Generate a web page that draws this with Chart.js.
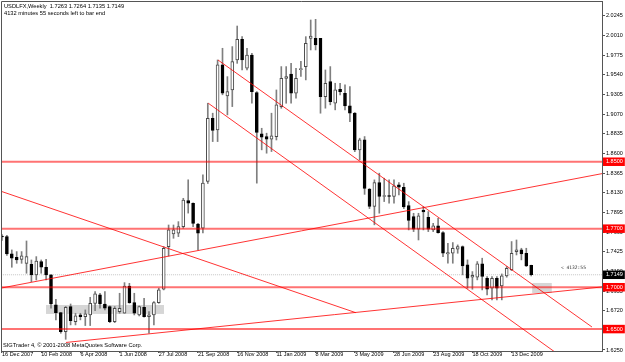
<!DOCTYPE html>
<html>
<head>
<meta charset="utf-8">
<script src="https://cdn.jsdelivr.net/npm/chart.js@4.4.1/dist/chart.umd.min.js"></script>
<style>
  html, body { margin: 0; padding: 0; background: #fff; }
  #wrap { position: relative; width: 625px; height: 362px; overflow: hidden; background: #fff; }
  #wrap canvas { position: absolute; left: 0; top: 0; }
  .lbl { position: absolute; font-family: 'Liberation Sans', Arial, sans-serif; font-size: 5.7px; line-height: 5.7px; color: #000; white-space: nowrap; }
  .timer { font-family: 'DejaVu Sans Mono', monospace; font-size: 4.6px; line-height: 4.6px; color: #333; }
</style>
</head>
<body>
<div id="wrap">
  <canvas id="chart" width="625" height="362"></canvas>
  <div class="lbl" id="head" style="left:4px;top:3.5px"></div>
  <div class="lbl" style="left:4px;top:10.5px">4132 minutes 55 seconds left to bar end</div>
  <div class="lbl" style="left:3px;top:342.5px">SIGTrader 4, © 2001-2008 MetaQuotes Software Corp.</div>
  <div class="lbl timer" style="left:561px;top:265.5px">&lt; 4132:55</div>
</div>
<script>
// weekly USDLFX candles, bar 0 = week of 16 Dec 2007
const opens = [
  1.7610, 1.7605, 1.7398, 1.7358, 1.7334, 1.7286, 1.7274, 1.7147, 1.7306, 1.7239,
  1.7147, 1.6789, 1.6697, 1.6470, 1.6769, 1.6589, 1.6669, 1.6649, 1.6669, 1.6808,
  1.6908, 1.6800, 1.6769, 1.6589, 1.6709, 1.6689, 1.7015, 1.6816, 1.6669, 1.6761,
  1.6649, 1.6669, 1.6816, 1.6976, 1.7485, 1.7637, 1.7645, 1.7724, 1.8037, 1.8003,
  1.7756, 1.7705, 1.8264, 1.9020, 1.8881, 1.9657, 1.9286, 1.9358, 1.9716, 1.9963,
  1.9617, 1.9776, 1.9326, 1.8833, 1.8801, 1.8769, 1.8801, 1.9159, 1.9497, 1.9549,
  1.9318, 1.9600, 1.9637, 1.9975, 1.9975, 1.9975, 1.9279, 1.9458, 1.9199, 1.9366,
  1.9318, 1.9167, 1.9080, 1.8642, 1.8761, 1.8172, 1.7965, 1.8251, 1.8084, 1.8088,
  1.8084, 1.8223, 1.8195, 1.7975, 1.7844, 1.7693, 1.7920, 1.7836, 1.7685, 1.7733,
  1.7653, 1.7398, 1.7406, 1.7454, 1.7486, 1.7267, 1.7120, 1.7120, 1.7279, 1.7108,
  1.6988, 1.7108, 1.7016, 1.7136, 1.7207, 1.7426, 1.7446, 1.7406, 1.7263
];
const highs = [
  1.7630, 1.7620, 1.7446, 1.7426, 1.7426, 1.7553, 1.7326, 1.7366, 1.7326, 1.7334,
  1.7150, 1.6856, 1.6700, 1.6770, 1.6800, 1.6689, 1.6689, 1.6729, 1.6880, 1.6948,
  1.6928, 1.6948, 1.6777, 1.6769, 1.6928, 1.7055, 1.7047, 1.6928, 1.6777, 1.6868,
  1.6709, 1.6828, 1.6988, 1.7485, 1.7744, 1.7744, 1.7784, 1.8063, 1.8284, 1.8010,
  1.7764, 1.8343, 1.9199, 1.9080, 1.9716, 1.9856, 1.9517, 1.9876, 2.0122, 1.9995,
  1.9856, 1.9796, 1.9338, 1.8900, 1.8841, 1.9080, 1.9358, 1.9637, 1.9637, 1.9676,
  1.9617, 1.9700, 1.9995, 2.0194, 2.0202, 1.9975, 1.9597, 1.9637, 1.9438, 1.9438,
  1.9418, 1.9398, 1.9088, 1.8781, 1.8801, 1.8180, 1.8283, 1.8363, 1.8303, 1.8283,
  1.8283, 1.8251, 1.8243, 1.8023, 1.7884, 1.7884, 1.7963, 1.7904, 1.7764, 1.7824,
  1.7665, 1.7526, 1.7534, 1.7506, 1.7494, 1.7327, 1.7187, 1.7307, 1.7347, 1.7128,
  1.7128, 1.7128, 1.7159, 1.7247, 1.7546, 1.7565, 1.7466, 1.7466, 1.7264
];
const lows = [
  1.7560, 1.7380, 1.7239, 1.7286, 1.7286, 1.7167, 1.7067, 1.7087, 1.7167, 1.7087,
  1.6749, 1.6610, 1.6450, 1.6378, 1.6550, 1.6550, 1.6610, 1.6542, 1.6542, 1.6721,
  1.6749, 1.6729, 1.6577, 1.6577, 1.6689, 1.6689, 1.6808, 1.6669, 1.6657, 1.6641,
  1.6450, 1.6550, 1.6808, 1.6968, 1.7374, 1.7585, 1.7605, 1.7705, 1.7886, 1.7724,
  1.7446, 1.7650, 1.8240, 1.8741, 1.8741, 1.9300, 1.9060, 1.9159, 1.9676, 1.9597,
  1.9597, 1.9199, 1.8244, 1.8642, 1.8602, 1.8622, 1.8760, 1.9139, 1.9199, 1.9199,
  1.9260, 1.9520, 1.9478, 1.9836, 1.9836, 1.9080, 1.9140, 1.9180, 1.9120, 1.9300,
  1.9120, 1.8980, 1.8620, 1.8522, 1.8110, 1.7940, 1.7746, 1.7885, 1.8024, 1.8004,
  1.8004, 1.8104, 1.7940, 1.7685, 1.7665, 1.7565, 1.7685, 1.7665, 1.7665, 1.7645,
  1.7366, 1.7287, 1.7287, 1.7406, 1.7148, 1.6988, 1.6976, 1.7088, 1.6968, 1.6909,
  1.6849, 1.6849, 1.6849, 1.7120, 1.7199, 1.7386, 1.7327, 1.7247, 1.7135
];
const closes = [
  1.7600, 1.7398, 1.7346, 1.7326, 1.7374, 1.7366, 1.7147, 1.7314, 1.7239, 1.7147,
  1.6800, 1.6697, 1.6470, 1.6761, 1.6601, 1.6657, 1.6649, 1.6681, 1.6808, 1.6920,
  1.6800, 1.6749, 1.6589, 1.6749, 1.6749, 1.7015, 1.6816, 1.6689, 1.6769, 1.6649,
  1.6669, 1.6816, 1.6968, 1.7466, 1.7685, 1.7685, 1.7724, 1.8043, 1.8005, 1.7764,
  1.7645, 1.8246, 1.9020, 1.8873, 1.9657, 1.9318, 1.9338, 1.9696, 1.9963, 1.9716,
  1.9776, 1.9338, 1.8849, 1.8793, 1.8769, 1.8809, 1.9179, 1.9497, 1.9517, 1.9318,
  1.9497, 1.9605, 1.9915, 2.0003, 1.9895, 1.9278, 1.9438, 1.9219, 1.9358, 1.9338,
  1.9167, 1.9080, 1.8642, 1.8761, 1.8180, 1.7965, 1.8251, 1.8084, 1.8092, 1.8084,
  1.8211, 1.8195, 1.7960, 1.7800, 1.7693, 1.7852, 1.7900, 1.7693, 1.7733, 1.7653,
  1.7406, 1.7414, 1.7466, 1.7486, 1.7255, 1.7108, 1.7143, 1.7279, 1.7128, 1.6976,
  1.7108, 1.6988, 1.7136, 1.7227, 1.7406, 1.7446, 1.7398, 1.7255, 1.7149
];

// one date label every 8 weeks
const dateLabels = ['16 Dec 2007', '10 Feb 2008', '6 Apr 2008', '1 Jun 2008', '27 Jul 2008',
  '21 Sep 2008', '16 Nov 2008', '11 Jan 2009', '8 Mar 2009', '3 May 2009', '28 Jun 2009',
  '23 Aug 2009', '18 Oct 2009', '13 Dec 2009'];
const priceTicks = [2.0245, 2.0010, 1.9775, 1.9540, 1.9305, 1.9070, 1.8835, 1.8600, 1.8365,
  1.8130, 1.7895, 1.7660, 1.7425, 1.7190, 1.6955, 1.6720, 1.6485, 1.6250];

// horizontal levels (red)
const levelPrices = [1.8500, 1.7700, 1.7000, 1.6500];

// trend lines: bar index / price at both ends
const trendStartBar = [-1, -1, 13.06, 44.08, 42.1];
const trendStartPrice = [1.8163, 1.6981, 1.6340, 1.9716, 1.9199];
const trendEndBar = [72.2, 124, 124, 120.4, 115];
const trendEndPrice = [1.6696, 1.8375, 1.7013, 1.6525, 1.6135];

// grey rectangles
const zoneStartBar = [8.98, 108.2];
const zoneEndBar = [33.06, 112.2];
const zoneHigh = [1.6788, 1.7051];
const zoneLow = [1.6681, 1.6932];

const last = closes.length - 1;
const lastClose = closes[last];
const fmt = v => v.toFixed(4);
document.getElementById('head').innerHTML =
  'USDLFX,Weekly&nbsp; ' + [opens[last], highs[last], lows[last], closes[last]].map(fmt).join(' ');

const axisFont = { family: "'Liberation Sans', Arial, sans-serif", size: 5.5, lineHeight: 1 };
const nPlain = priceTicks.length;

const framePlugin = {
  id: 'frame',
  beforeDatasetsDraw(chart) {
    const { ctx, scales: { x, y } } = chart;
    ctx.save();
    ctx.fillStyle = '#d6d6d6';
    zoneStartBar.forEach((b, k) => {
      const x0 = x.getPixelForValue(b), x1 = x.getPixelForValue(zoneEndBar[k]);
      const y0 = y.getPixelForValue(zoneHigh[k]), y1 = y.getPixelForValue(zoneLow[k]);
      ctx.fillRect(x0, y0, x1 - x0, y1 - y0);
    });
    ctx.restore();
  },
  afterDraw(chart) {
    const { ctx, chartArea: a } = chart;
    ctx.save();
    ctx.strokeStyle = '#555';
    ctx.lineWidth = 1;
    ctx.beginPath();
    ctx.moveTo(a.left + 0.5, a.bottom);
    ctx.lineTo(a.left + 0.5, a.top + 0.5);
    ctx.lineTo(a.right, a.top + 0.5);
    ctx.stroke();
    ctx.restore();
  }
};

const wicks = {
  type: 'bar',
  data: opens.map((o, i) => ({ x: i, y: [lows[i], highs[i]] })),
  backgroundColor: '#7f7f7f',
  barThickness: 1,
  grouped: false,
  order: 3
};
const bodies = {
  type: 'bar',
  data: opens.map((o, i) => ({ x: i, y: [Math.min(o, closes[i]), Math.max(o, closes[i])] })),
  backgroundColor: opens.map((o, i) => closes[i] >= o ? '#fff' : '#000'),
  borderColor: opens.map((o, i) => closes[i] >= o ? '#4a4a4a' : '#000'),
  borderWidth: 1,
  borderSkipped: false,
  barThickness: 3,
  minBarLength: 1,
  grouped: false,
  order: 2
};
const bidLine = {
  type: 'line',
  data: [{ x: -1, y: lastClose }, { x: 124, y: lastClose }],
  borderColor: '#c4c4c4',
  borderDash: [1, 1],
  borderWidth: 1,
  pointRadius: 0,
  order: 6
};
const levelLines = levelPrices.map(p => ({
  type: 'line',
  data: [{ x: -1, y: p }, { x: 124, y: p }],
  borderColor: 'rgba(255,0,0,0.55)',
  borderWidth: 2,
  pointRadius: 0,
  order: 1
}));
const trendLines = trendStartBar.map((b, k) => ({
  type: 'line',
  data: [{ x: b, y: trendStartPrice[k] }, { x: trendEndBar[k], y: trendEndPrice[k] }],
  borderColor: 'rgba(255,0,0,0.8)',
  borderWidth: 1,
  pointRadius: 0,
  order: 1
}));

// keep the plot box fixed: no automatic label padding
const noPad = s => { s.paddingLeft = 0; s.paddingRight = 0; s.paddingTop = 0; s.paddingBottom = 0; };

new Chart(document.getElementById('chart'), {
  type: 'bar',
  data: { datasets: [wicks, bodies, bidLine, ...levelLines, ...trendLines] },
  options: {
    responsive: false,
    animation: false,
    layout: { padding: { left: 1, top: 1, right: 0, bottom: 0 } },
    plugins: { legend: { display: false }, tooltip: { enabled: false } },
    scales: {
      x: {
        type: 'linear',
        offset: false,
        min: -0.204,
        max: 122.45,
        afterBuildTicks: s => { s.ticks = dateLabels.map((_, k) => ({ value: k * 8 })); },
        afterFit: s => { s.height = 11; noPad(s); },
        grid: { drawOnChartArea: false, offset: false, tickLength: 2, color: '#555' },
        border: { color: '#555' },
        ticks: {
          autoSkip: false, maxRotation: 0, align: 'start', padding: -1,
          font: axisFont, color: '#000',
          callback: (v, k) => dateLabels[k]
        }
      },
      y: {
        position: 'right',
        min: 1.6238,
        max: 2.0421,
        afterBuildTicks: s => {
          s.ticks = [...priceTicks, ...levelPrices, lastClose].map(v => ({ value: v }));
        },
        afterFit: s => { s.width = 23; noPad(s); },
        grid: { drawOnChartArea: false, tickLength: 3, color: '#555' },
        border: { color: '#555' },
        ticks: {
          autoSkip: false, padding: 1, font: axisFont,
          color: c => c.index >= nPlain ? '#fff' : '#000',
          showLabelBackdrop: c => c.index >= nPlain,
          backdropColor: c => c.index === nPlain + levelPrices.length ? '#000' : '#f00',
          backdropPadding: { left: 3, right: 2, top: 1.5, bottom: 1.5 },
          callback: v => fmt(v)
        }
      }
    }
  },
  plugins: [framePlugin]
});
</script>
</body>
</html>
